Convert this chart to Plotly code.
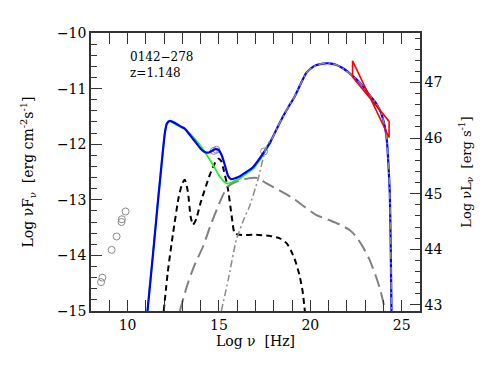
import plotly.graph_objects as go

# total model (blue)
tot_x = [11.09, 11.4, 11.67, 11.85, 12.04, 12.15, 12.31, 12.6, 12.9, 13.13, 13.45, 13.76, 14.0, 14.22,
         14.45, 14.62, 14.8, 14.97, 15.15, 15.31, 15.5, 15.67, 15.9, 16.13, 16.5, 16.85, 17.2, 17.49,
         17.86, 18.2, 18.49, 18.8, 19.13, 19.45, 19.77, 20.05, 20.31, 20.7, 21.04, 21.4, 21.76, 22.31,
         22.7, 23.04, 23.3, 23.59, 23.85, 24.0, 24.13, 24.2, 24.27, 24.35, 24.4, 24.44]
tot_y = [-15.0, -13.95, -13.0, -12.4, -11.8, -11.63, -11.58, -11.62, -11.68, -11.72, -11.85, -11.98, -12.08, -12.14,
         -12.15, -12.12, -12.09, -12.1, -12.2, -12.36, -12.57, -12.63, -12.61, -12.58, -12.5, -12.42, -12.27, -12.13,
         -11.93, -11.7, -11.51, -11.33, -11.15, -10.93, -10.72, -10.63, -10.58, -10.55, -10.545, -10.57, -10.63, -10.77,
         -10.89, -11.03, -11.14, -11.26, -11.42, -11.58, -11.78, -11.98, -12.35, -12.9, -13.9, -15.0]

# jet emission (green)
jet_x = [11.09, 11.4, 11.67, 11.85, 12.04, 12.15, 12.31, 12.6, 13.22, 13.95, 14.67, 15.04, 15.3, 15.49,
         15.8, 16.13, 16.5, 16.85, 17.2, 17.49, 17.86]
jet_y = [-15.0, -13.95, -13.0, -12.4, -11.8, -11.63, -11.58, -11.64, -11.75, -12.01, -12.37, -12.58, -12.68, -12.71,
         -12.67, -12.62, -12.53, -12.45, -12.3, -12.15, -11.95]

# disk + torus + corona (black dashed)
dtc_x = [11.98, 12.2, 12.49, 12.8, 13.0, 13.13, 13.3, 13.45, 13.58, 13.75, 14.0, 14.5, 14.8, 14.97, 15.12, 15.25,
         15.49, 15.7, 15.86, 16.13, 17.04, 17.8, 18.31, 18.7, 18.95, 19.2, 19.4, 19.58, 19.7]
dtc_y = [-15.0, -14.3, -13.6, -12.95, -12.7, -12.64, -12.85, -13.3, -13.45, -13.35, -13.05, -12.55, -12.33, -12.26, -12.3, -12.45,
         -12.8, -13.3, -13.6, -13.63, -13.63, -13.65, -13.69, -13.78, -13.92, -14.12, -14.35, -14.65, -15.0]

# SSC (grey long dashed)
ssc_x = [12.86, 13.3, 13.7, 14.13, 14.55, 14.95, 15.2, 15.49, 15.9, 16.31, 16.67, 17.13, 17.58, 18.3,
         19.04, 19.7, 20.31, 21.0, 21.58, 22.13, 22.5, 22.86, 23.2, 23.59, 23.85, 24.1]
ssc_y = [-15.0, -14.5, -14.15, -13.84, -13.45, -13.12, -12.93, -12.76, -12.68, -12.64, -12.61, -12.61, -12.7, -12.83,
         -12.97, -13.13, -13.27, -13.36, -13.44, -13.54, -13.66, -13.84, -14.05, -14.38, -14.65, -15.0]

# external Compton (grey dot-dashed)
ec_x = [15.13, 15.5, 15.95, 16.4, 16.67, 17.13, 17.49, 17.67, 17.86, 18.2, 18.49, 18.8, 19.13, 19.45, 19.77,
        20.05, 20.31, 20.7, 21.04, 21.4, 21.76, 22.31, 22.7, 23.04, 23.3, 23.59, 23.85, 24.0, 24.13, 24.2,
        24.27, 24.35, 24.4, 24.44]
ec_y = [-15.0, -14.45, -13.72, -13.32, -13.12, -12.64, -12.16, -11.99, -11.93, -11.7, -11.51, -11.33, -11.15, -10.93, -10.72,
        -10.63, -10.58, -10.55, -10.545, -10.57, -10.63, -10.77, -10.89, -11.03, -11.14, -11.26, -11.42, -11.58, -11.78, -11.98,
        -12.35, -12.9, -13.9, -15.0]

# archival data (grey open circles)
obs_x = [8.55, 8.62, 9.13, 9.40, 9.67, 9.69, 9.89, 14.72, 14.86, 17.47]
obs_y = [-14.48, -14.40, -13.90, -13.66, -13.40, -13.35, -13.21, -12.12, -12.10, -12.13]

# Fermi/LAT bow tie (red)
lat_x = [22.31, 24.31, 24.31, 22.31, 22.31]
lat_y = [-10.50, -11.88, -11.59, -10.79, -10.50]

L_OFFSET = 57.89  # log nuL_nu - log nuF_nu

font = "DejaVu Serif"
axcol = "#333333"

fig = go.Figure()
fig.add_trace(go.Scatter(x=obs_x, y=obs_y, mode="markers",
                         marker=dict(symbol="circle-open", size=7, color="#8a8a8a", line=dict(width=1))))
fig.add_trace(go.Scatter(x=dtc_x, y=dtc_y, mode="lines", line=dict(color="black", width=2, dash="6px,4px", shape="spline", smoothing=0.6)))
fig.add_trace(go.Scatter(x=ssc_x, y=ssc_y, mode="lines", line=dict(color="#808080", width=2, dash="13px,6px", shape="spline", smoothing=0.8)))
fig.add_trace(go.Scatter(x=jet_x, y=jet_y, mode="lines", line=dict(color="#22ee22", width=1.8, shape="spline", smoothing=0.5)))
fig.add_trace(go.Scatter(x=tot_x, y=tot_y, mode="lines", line=dict(color="#0000ff", width=2.2, shape="spline", smoothing=0.5)))
fig.add_trace(go.Scatter(x=ec_x, y=ec_y, mode="lines", line=dict(color="#8a8a8a", width=1.5, dash="7px,3px,2px,3px", shape="spline", smoothing=0.5)))
fig.add_trace(go.Scatter(x=lat_x, y=lat_y, mode="lines", line=dict(color="red", width=1.6)))
# invisible trace so the right-hand luminosity axis is drawn
fig.add_trace(go.Scatter(x=[8], y=[45], yaxis="y2", mode="markers", marker=dict(opacity=0), showlegend=False))

fig.add_annotation(x=10.0, y=-10.43, xref="x", yref="y", text="0142\u2212278", showarrow=False,
                   xanchor="left", yanchor="middle", font=dict(family=font, size=12, color="black"))
fig.add_annotation(x=10.0, y=-10.72, xref="x", yref="y", text="z=1.148", showarrow=False,
                   xanchor="left", yanchor="middle", font=dict(family=font, size=12, color="black"))

# page body has an 8px margin, so the figure is 8px smaller than the window
fig.update_layout(
    width=483, height=374,
    margin=dict(l=83, r=71, t=25, b=71, autoexpand=False),
    paper_bgcolor="white", plot_bgcolor="white",
    showlegend=False,
    font=dict(family=font, size=14, color="black"),
    xaxis=dict(range=[8, 26], dtick=5, tick0=0, ticks="inside", ticklen=11, tickwidth=1.3, tickcolor=axcol,
               showline=True, linecolor=axcol, linewidth=1.5, mirror="allticks", showgrid=False, zeroline=False,
               automargin=False,
               minor=dict(ticks="inside", dtick=1, ticklen=6, tickcolor=axcol, tickwidth=1.2),
               title=dict(text="Log \u03bd  [Hz]", font=dict(size=14), standoff=3)),
    yaxis=dict(range=[-15, -10], dtick=1, ticks="inside", ticklen=11, tickwidth=1.3, tickcolor=axcol,
               showline=True, linecolor=axcol, linewidth=1.5, mirror=True, showgrid=False, zeroline=False,
               automargin=False,
               minor=dict(ticks="inside", dtick=0.2, ticklen=6, tickcolor=axcol, tickwidth=1.2),
               title=dict(text="Log \u03bdF<sub>\u03bd</sub>  [erg cm<sup>-2</sup>s<sup>-1</sup>]", font=dict(size=14), standoff=20)),
    yaxis2=dict(range=[-15 + L_OFFSET, -10 + L_OFFSET], overlaying="y", side="right", dtick=1,
                ticks="inside", ticklen=10, tickwidth=1.3, tickcolor=axcol,
                showline=True, linecolor=axcol, linewidth=1.5, showgrid=False, zeroline=False,
                automargin=False,
                minor=dict(ticks="inside", dtick=0.2, ticklen=5, tickcolor=axcol, tickwidth=1.2),
                title=dict(text="Log \u03bdL<sub>\u03bd</sub>  [erg s<sup>-1</sup>]", font=dict(size=13), standoff=20)),
)

fig.write_html("out.html")
